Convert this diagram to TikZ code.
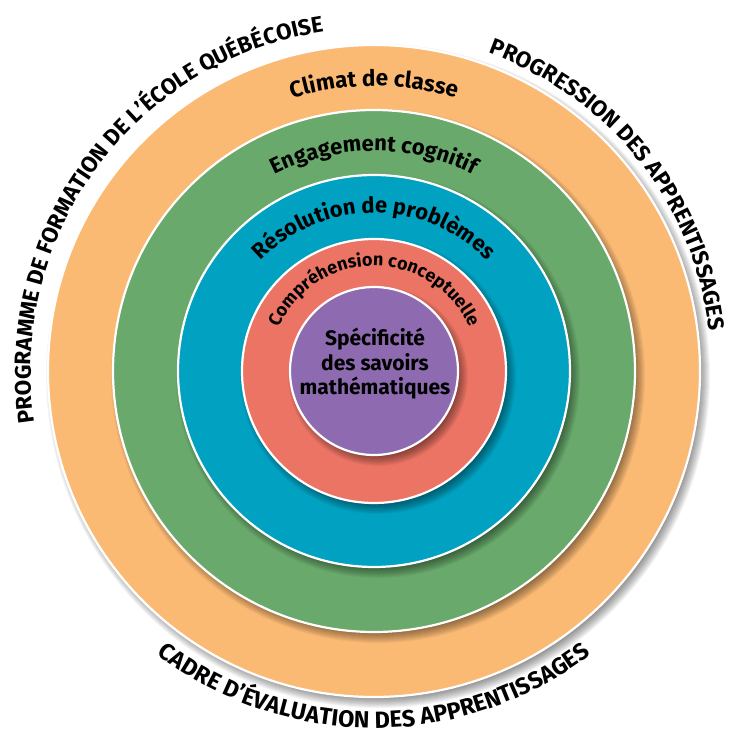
\documentclass[tikz,border=0pt]{standalone}
\usepackage{fontspec}
\newfontfamily\din{Fira Sans}
\usetikzlibrary{decorations.text,calc}
\definecolor{cOrange}{HTML}{FBBA74}
\definecolor{cGreen}{HTML}{69A96C}
\definecolor{cBlue}{HTML}{00A1C1}
\definecolor{cRed}{HTML}{EC7465}
\definecolor{cPurple}{HTML}{8E6BB0}
\newcommand\outerfont{\din\bfseries\fontsize{22.5}{26}\selectfont}
\newcommand\bottomfont{\din\bfseries\fontsize{23.5}{27}\selectfont}
\newcommand\ringshadow[1]{%
  \foreach \k in {-6,...,6}{\fill[black,opacity=0.045] ($(C)+(4,-5)$) circle[radius={(#1+\k)*1pt}];}}
\tikzset{
  ring/.style={circle, inner sep=0pt, outer sep=0pt, draw=white, line width=2.2pt, minimum size=#1},
  arclabel/.style={decorate, decoration={text along path, text align=center, text={#1}}},
}
\begin{document}
\begin{tikzpicture}[x=1pt,y=1pt]
\useasboundingbox (0,0) rectangle (730,-734);
\fill[white] (0,0) rectangle (730,-734);
\coordinate (C) at (374,-371);
% rings with shadows
\ringshadow{326}
\node[ring=652pt, fill=cOrange] (orange) at (C) {};
\ringshadow{261}
\node[ring=522pt, fill=cGreen] (green) at (C) {};
\ringshadow{196}
\node[ring=392pt, fill=cBlue] (blue) at (C) {};
\ringshadow{132}
\node[ring=264pt, fill=cRed] (red) at (C) {};
\ringshadow{84}
\node[ring=168pt, fill=cPurple] (purple) at (C) {};
% centre text
\node[font=\din\bfseries\fontsize{21}{24.5}\selectfont, align=center, text=black] (centre) at (375,-364)
  {Spécificité\\des savoirs\\mathématiques};
% ring labels
\path[arclabel={|\din\bfseries\fontsize{22.5}{26}\selectfont|Climat de classe}]
  ($(C)+(150:285)$) arc[start angle=150, end angle=30, radius=285];
\path[arclabel={|\din\bfseries\fontsize{22}{26}\selectfont|Engagement cognitif}]
  ($(C)+(160:220)$) arc[start angle=160, end angle=20, radius=220];
\path[arclabel={|\din\bfseries\fontsize{22}{26}\selectfont|Résolution de problèmes}]
  ($(C)+(180:158)$) arc[start angle=180, end angle=0, radius=158];
\path[arclabel={|\din\bfseries\fontsize{18}{22}\selectfont|Compréhension conceptuelle}]
  ($(C)+(200:105)$) arc[start angle=200, end angle=-20, radius=105];
% outer labels
\path[arclabel={|\outerfont|PROGRAMME DE FORMATION DE L’ÉCOLE QUÉBÉCOISE}]
  ($(C)+(215:343)$) arc[start angle=215, end angle=72, radius=343];
\path[arclabel={|\outerfont|PROGRESSION DES APPRENTISSAGES}]
  ($(C)+(110:338)$) arc[start angle=110, end angle=-33, radius=338];
\path[arclabel={|\bottomfont|CADRE D’ÉVALUATION DES APPRENTISSAGES}]
  ($(C)+(200:357)$) arc[start angle=200, end angle=340, radius=357];
\end{tikzpicture}
\end{document}
